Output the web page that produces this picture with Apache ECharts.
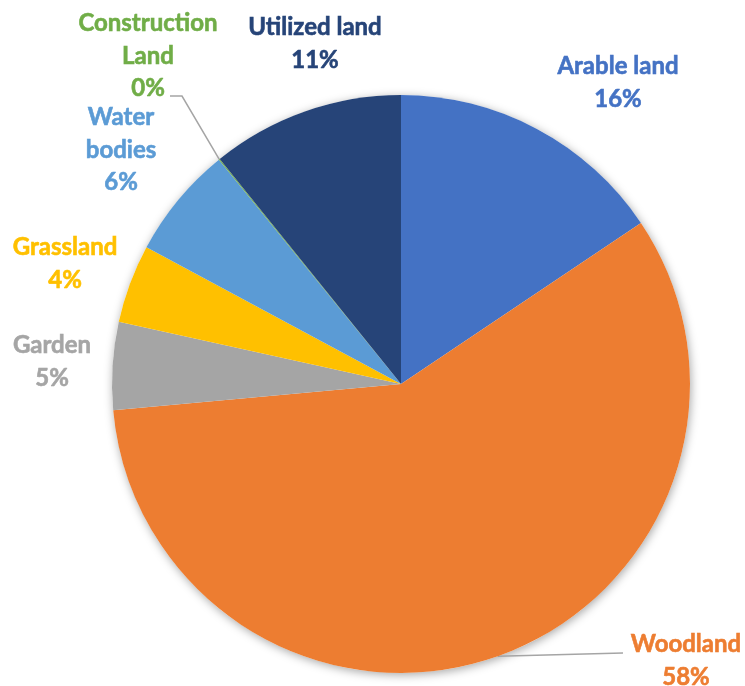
<!DOCTYPE html>
<html>
<head>
<meta charset="utf-8">
<script src="https://cdn.jsdelivr.net/npm/echarts@6/dist/echarts.min.js"></script>
<style>
html,body{margin:0;padding:0;background:#fff;}
#chart{width:745px;height:686px;}
</style>
</head>
<body>
<div id="chart"></div>
<script>
// Data
const categories = ['Arable land', 'Woodland', 'Garden', 'Grassland', 'Water bodies', 'Construction Land', 'Utilized land'];
const labelText = ['Arable land', 'Woodland', 'Garden', 'Grassland', 'Water\nbodies', 'Construction\nLand', 'Utilized land'];
const shares = [15.6, 58.0, 4.9, 4.4, 6.3, 0.06, 10.8];
const colors = ['#4472C4', '#ED7D31', '#A5A5A5', '#FFC000', '#5B9BD5', '#70AD47', '#264478'];
const showLeader = [false, true, false, false, false, true, false];

// Label placement (layout, not data)
const labelPos = [[618, 83], [686, 661], [52, 362], [65, 264], [121, 150], [148, 56], [315, 44]];
// leader line end/elbow near the label (layout)
const leaderEnds = {1: [[623, 653], [623, 653]], 5: [[182, 96], [170, 96]]};

const chart = echarts.init(document.getElementById('chart'), null, {renderer: 'canvas'});

const data = categories.map((c, i) => ({
  name: c,
  value: shares[i],
  itemStyle: {color: colors[i]},
  label: {color: colors[i], textBorderColor: colors[i]},
  labelLine: {show: showLeader[i]}
}));

chart.setOption({
  animation: false,
  backgroundColor: '#ffffff',
  series: [
    {
      type: 'pie',
      silent: true,
      center: [401, 384],
      radius: 289,
      data: [{value: 1, itemStyle: {color: '#ffffff', shadowBlur: 10, shadowColor: 'rgba(0,0,0,0.35)', shadowOffsetX: 1, shadowOffsetY: 2}}],
      label: {show: false},
      labelLine: {show: false},
      z: 1
    },
    {
      type: 'pie',
      center: [401, 384],
      radius: 289,
      startAngle: 90,
      clockwise: true,
      z: 2,
      itemStyle: {borderWidth: 0},
      data: data,
      label: {
        show: true,
        position: 'outside',
        overflow: 'none',
        fontFamily: 'Lato, "Open Sans", sans-serif',
        fontWeight: 'bold',
        fontSize: 24,
        lineHeight: 32.5,
        textBorderWidth: 0.6,
        formatter: p => labelText[p.dataIndex] + '\n' + Math.round(p.percent) + '%'
      },
      labelLine: {
        length: 20,
        length2: 10,
        lineStyle: {color: '#A5A5A5', width: 1.5}
      },
      labelLayout: p => {
        const o = {
          x: labelPos[p.dataIndex][0],
          y: labelPos[p.dataIndex][1],
          align: 'center',
          verticalAlign: 'middle'
        };
        const le = leaderEnds[p.dataIndex];
        if (le && p.labelLinePoints) {
          o.labelLinePoints = [p.labelLinePoints[0], le[0], le[1]];
        }
        return o;
      }
    }
  ]
});
</script>
</body>
</html>
